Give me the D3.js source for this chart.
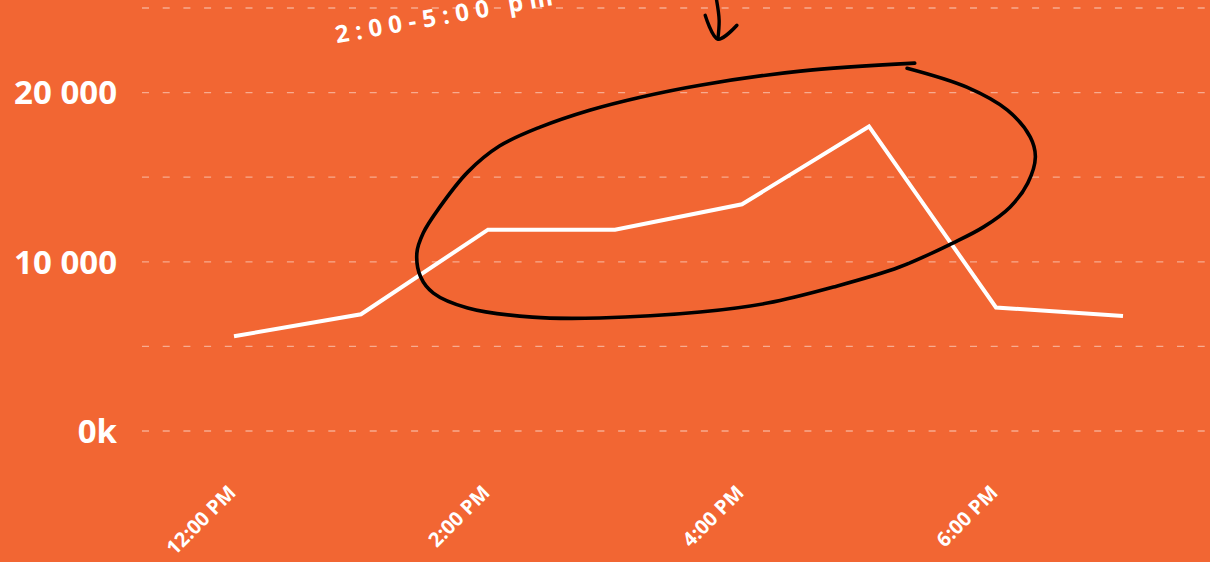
<!DOCTYPE html>
<html>
<head>
<meta charset="utf-8">
<script src="https://cdn.jsdelivr.net/npm/d3@7"></script>
<style>
  html, body { margin: 0; padding: 0; background: #f26633; }
  svg { display: block; }
</style>
</head>
<body>
<svg id="chart" width="1210" height="562"></svg>
<script>
// Hourly counts, noon to 7 pm
const times = ["12:00", "13:00", "14:00", "15:00", "16:00", "17:00", "18:00", "19:00"];
const values = [5600, 6900, 11900, 11900, 13400, 18000, 7300, 6800];

// Axis ticks
const gridValues = [0, 5000, 10000, 15000, 20000, 25000];
const yTickValues = [0, 10000, 20000];
const yTickLabels = ["0k", "10 000", "20 000"];
const xTickTimes = ["12:00", "14:00", "16:00", "18:00"];
const xTickLabels = ["12:00 PM", "2:00 PM", "4:00 PM", "6:00 PM"];

// Hand-drawn highlight loop, in [hour, value] units
const loopHours = [17.30, 17.77, 18.09, 18.27, 18.31, 18.25, 18.11, 17.90, 17.66, 17.24, 16.72, 16.20, 15.67, 14.88, 14.35, 13.84, 13.57, 13.47, 13.44, 13.49, 13.62, 13.84, 14.09, 14.41, 14.80, 15.20, 15.67, 16.46, 17.36];
const loopValues = [21440, 20320, 18960, 17370, 16190, 14650, 13230, 12050, 11110, 9690, 8510, 7560, 7030, 6680, 6730, 7270, 8150, 9100, 10520, 11700, 13230, 15300, 16840, 17960, 18960, 19730, 20440, 21270, 21740];

// Pointer arrow, in [hour, value] units
const arrowShaft = [[15.80, 25460], [15.82, 24280], [15.81, 23160]];
const arrowHead = [[15.71, 24570], [15.81, 23160], [15.96, 23980]];

// Callout text
const calloutText = "2:00-5:00 pm";
const calloutAt = [12.81, 22920];

const svg = d3.select("#chart");
const W = 1210, H = 562;

const parse = d3.timeParse("%H:%M");
const x = d3.scaleTime()
  .domain([parse("12:00"), parse("19:00")])
  .range([234, 1123]);
const y = d3.scaleLinear()
  .domain([0, 25000])
  .range([431, 8]);
const hourToDate = h => parse("12:00").getTime() + (h - 12) * 3600 * 1000;

svg.append("rect").attr("width", W).attr("height", H).attr("fill", "#f26633");

// Dashed gridlines
svg.append("g")
  .selectAll("line")
  .data(gridValues)
  .join("line")
  .attr("x1", 142)
  .attr("x2", W)
  .attr("y1", d => y(d))
  .attr("y2", d => y(d))
  .attr("stroke", "rgba(255,255,255,0.45)")
  .attr("stroke-width", 1.3)
  .attr("stroke-dasharray", "7,13.7");

// Y axis labels
const yAxis = d3.axisLeft(y)
  .tickValues(yTickValues)
  .tickFormat((d, i) => yTickLabels[i])
  .tickSize(0)
  .tickPadding(0);
const gy = svg.append("g").attr("transform", "translate(117,0)").call(yAxis);
gy.select(".domain").remove();
gy.selectAll("text")
  .attr("fill", "#fff")
  .attr("font-family", "'Open Sans', sans-serif")
  .attr("font-weight", 700)
  .attr("font-size", 33)
  .attr("dy", "0.34em");

// X axis labels, rotated
const xAxis = d3.axisBottom(x)
  .tickValues(xTickTimes.map(parse))
  .tickFormat((d, i) => xTickLabels[i])
  .tickSize(0)
  .tickPadding(0);
const gx = svg.append("g").call(xAxis);
gx.select(".domain").remove();
gx.selectAll(".tick").attr("transform", d => `translate(${x(d) + 3},494)`);
gx.selectAll("text")
  .attr("fill", "#fff")
  .attr("font-family", "'Open Sans', sans-serif")
  .attr("font-weight", 700)
  .attr("font-size", 20)
  .attr("text-anchor", "end")
  .attr("y", 0)
  .attr("dy", 0)
  .attr("transform", "rotate(-45)");

// Series line
const line = d3.line()
  .x((d, i) => x(parse(times[i])))
  .y(d => y(d));
svg.append("path")
  .datum(values)
  .attr("d", line)
  .attr("fill", "none")
  .attr("stroke", "#fff")
  .attr("stroke-width", 4)
  .attr("stroke-linejoin", "miter");

// Highlight loop
const loopLine = d3.line()
  .x(d => x(hourToDate(d[0])))
  .y(d => y(d[1]))
  .curve(d3.curveCatmullRom.alpha(0.5));
svg.append("path")
  .datum(loopHours.map((h, i) => [h, loopValues[i]]))
  .attr("d", loopLine)
  .attr("fill", "none")
  .attr("stroke", "#000")
  .attr("stroke-width", 3.6)
  .attr("stroke-linecap", "round");

// Arrow
const arrowLine = d3.line()
  .x(d => x(hourToDate(d[0])))
  .y(d => y(d[1]))
  .curve(d3.curveCatmullRom);
[arrowShaft, arrowHead].forEach(pts => {
  svg.append("path")
    .attr("d", arrowLine(pts))
    .attr("fill", "none")
    .attr("stroke", "#000")
    .attr("stroke-width", 3.4)
    .attr("stroke-linecap", "round")
    .attr("stroke-linejoin", "round");
});

// Callout
svg.append("text")
  .attr("transform", `translate(${x(hourToDate(calloutAt[0]))},${y(calloutAt[1])}) rotate(-10)`)
  .attr("fill", "#fff")
  .attr("font-family", "'Open Sans', sans-serif")
  .attr("font-weight", 700)
  .attr("font-size", 24)
  .attr("letter-spacing", "6.5px")
  .text(calloutText);
</script>
</body>
</html>
